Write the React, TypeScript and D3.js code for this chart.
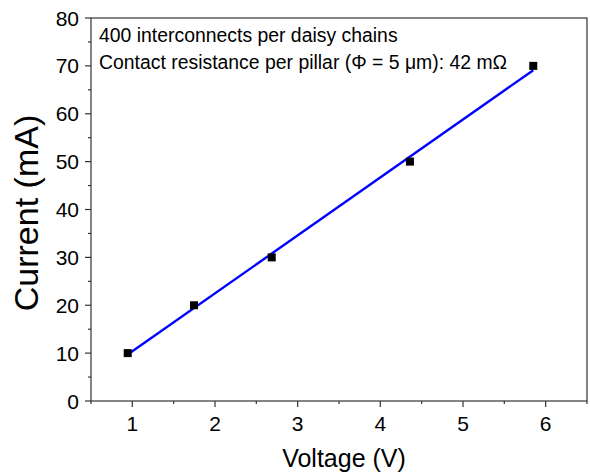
import * as d3 from 'd3';

const voltage = [0.944, 1.746, 2.686, 4.358, 5.85];
const current = [10, 20, 30, 50, 70];
const fitVoltage = [0.944, 5.85];
const fitCurrent = [9.7, 69.1];
const xTicks = [1, 2, 3, 4, 5, 6];
const xMinor = [0.5, 1.5, 2.5, 3.5, 4.5, 5.5, 6.5];
const yTicks = [0, 10, 20, 30, 40, 50, 60, 70, 80];
const yMinor = [5, 15, 25, 35, 45, 55, 65, 75];

const W = 590;
const H = 474;
const left = 91;
const right = 587;
const top = 18;
const bottom = 401;
const font = 'Liberation Sans, Arial, sans-serif';

export default function App() {
  const x = d3.scaleLinear().domain([0.5, 6.5]).range([left, right]);
  const y = d3.scaleLinear().domain([0, 80]).range([bottom, top]);
  const line = d3.line<number>()
    .x((d) => x(d))
    .y((_, i) => y(fitCurrent[i]));

  return (
    <svg width={W} height={H} style={{ position: 'absolute', left: 0, top: 0 }} fontFamily={font}>
      <rect x={left} y={top} width={right - left} height={bottom - top} fill="none" stroke="#333" strokeWidth={1.2} />
      {xTicks.map((t) => (
        <g key={'x' + t}>
          <line x1={x(t)} x2={x(t)} y1={bottom} y2={bottom + 6} stroke="#333" strokeWidth={1.2} />
          <text x={x(t)} y={bottom + 30} fontSize={21} textAnchor="middle">{t}</text>
        </g>
      ))}
      {xMinor.map((t) => (
        <line key={'xm' + t} x1={x(t)} x2={x(t)} y1={bottom} y2={bottom + 3} stroke="#333" strokeWidth={1.2} />
      ))}
      {yTicks.map((t) => (
        <g key={'y' + t}>
          <line x1={left - 6} x2={left} y1={y(t)} y2={y(t)} stroke="#333" strokeWidth={1.2} />
          <text x={79} y={y(t) + 7.5} fontSize={21} textAnchor="end">{t}</text>
        </g>
      ))}
      {yMinor.map((t) => (
        <line key={'ym' + t} x1={left - 3} x2={left} y1={y(t)} y2={y(t)} stroke="#333" strokeWidth={1.2} />
      ))}
      <path d={line(fitVoltage) ?? ''} fill="none" stroke="#0000ff" strokeWidth={2.4} />
      {voltage.map((v, i) => (
        <rect key={'p' + i} x={x(v) - 4} y={y(current[i]) - 4} width={8} height={8} fill="#000" />
      ))}
      <text x={99} y={42} fontSize={19.4}>400 interconnects per daisy chains</text>
      <text x={99} y={69} fontSize={19.4}>Contact resistance per pillar (Φ = 5 μm): 42 mΩ</text>
      <text x={344} y={467} fontSize={25} textAnchor="middle">Voltage (V)</text>
      <text transform={`translate(38,213) rotate(-90)`} fontSize={34} textAnchor="middle">Current (mA)</text>
    </svg>
  );
}
